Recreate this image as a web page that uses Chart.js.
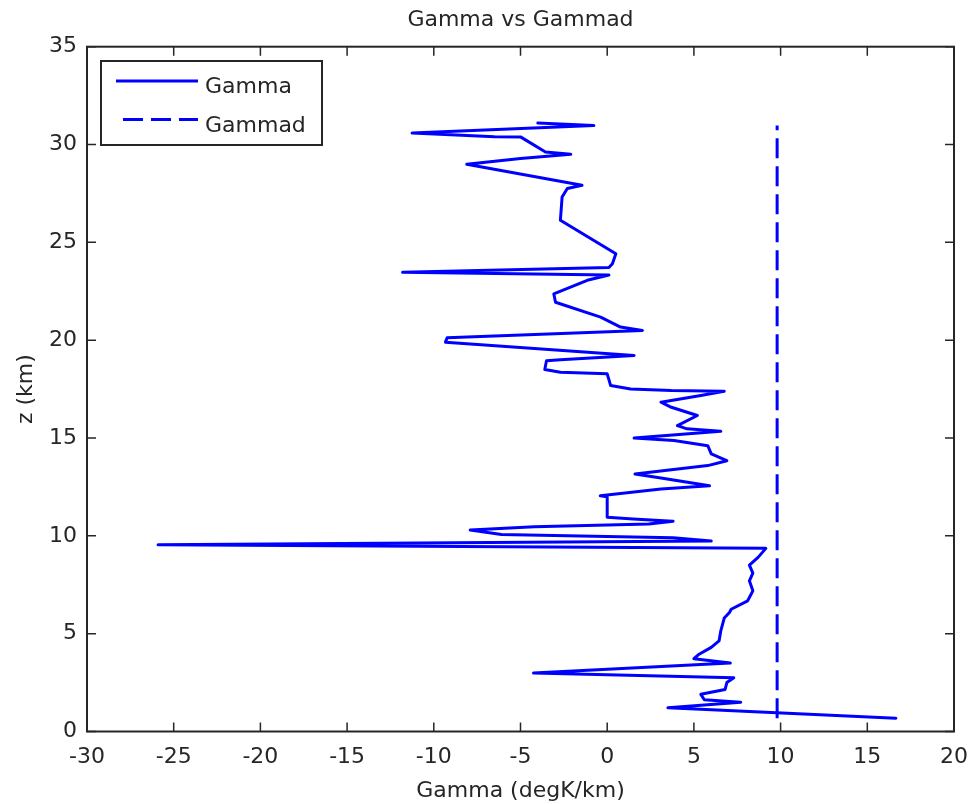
<!DOCTYPE html>
<html>
<head>
    <meta charset="utf-8">
    <title>Gamma vs Gammad</title>
    <script src="https://cdn.jsdelivr.net/npm/chart.js@4.4.0/dist/chart.umd.min.js"></script>
    <style>
        body { margin: 0; background: #fff; }
        canvas { display: block; }
    </style>
</head>
<body>
    <canvas id="myChart" width="972" height="804"></canvas>
    <script>
        // lapse rate profile (degK/km vs km)
        const gammaVals = [
            16.65, 3.5, 7.7, 5.6, 5.4, 6.8, 6.9, 7.3, -4.25, 7.1,
            5.0, 5.3, 6.0, 6.45, 6.55, 6.75, 7.05, 7.15, 8.1, 8.4,
            8.2, 8.4, 8.2, 8.7, 9.15, -25.9, 6.0, 3.8, -6.1, -7.9,
            -4.2, 2.4, 3.8, 1.5, 0.0, 0.0, -0.4, 3.1, 5.9, 3.1,
            1.6, 5.8, 6.9, 6.0, 5.8, 3.85, 1.55, 6.55, 4.6, 4.05,
            5.2, 3.7, 3.1, 5.4, 6.75, 3.7, 1.35, 0.2, 0.0, -2.7,
            -3.6, -3.5, -2.7, 1.55, -9.33, -9.23, 2.03, 0.77, -0.38, -2.98,
            -3.08, -1.15, 0.1, -11.8, 0.1, 0.3, 0.5, -2.7, -2.6, -2.3,
            -1.45, -8.1, -5.0, -2.1, -3.56, -5.0, -6.5, -11.25, -0.77, -4.0
        ];
        const zVals = [
            0.68, 1.22, 1.5, 1.62, 1.9, 2.15, 2.5, 2.75, 2.99, 3.5,
            3.72, 3.95, 4.3, 4.63, 5.14, 5.8, 6.08, 6.25, 6.68, 7.19,
            7.7, 8.1, 8.5, 8.9, 9.36, 9.54, 9.74, 9.9, 10.07, 10.3,
            10.47, 10.6, 10.75, 10.86, 10.95, 12.0, 12.05, 12.4, 12.56, 12.96,
            13.16, 13.59, 13.84, 14.19, 14.61, 14.87, 15.0, 15.34, 15.47, 15.63,
            16.15, 16.57, 16.83, 17.17, 17.39, 17.43, 17.51, 17.68, 18.28, 18.36,
            18.5, 18.95, 19.0, 19.22, 19.9, 20.12, 20.5, 20.67, 21.18, 21.94,
            22.37, 23.06, 23.33, 23.47, 23.72, 23.91, 24.42, 26.13, 27.32, 27.75,
            27.92, 28.99, 29.28, 29.5, 29.62, 30.39, 30.4, 30.59, 30.97, 31.1
        ];
        const gammadVal = 9.8;
        const gammadZ = [0.68, 30.97];

        const xTicks = [-30, -25, -20, -15, -10, -5, 0, 5, 10, 15, 20];
        const yTicks = [0, 5, 10, 15, 20, 25, 30, 35];

        const FONT = 'DejaVu Sans';
        const INK = '#262626';

        const frame = {
            id: 'frame',
            afterDatasetsDraw(chart) {
                const ctx = chart.ctx;
                const a = chart.chartArea;
                const xs = chart.scales.x, ys = chart.scales.y;
                ctx.save();
                ctx.strokeStyle = INK;
                ctx.lineWidth = 2;
                ctx.strokeRect(a.left, a.top, a.right - a.left, a.bottom - a.top);
                // inward ticks on all four sides
                ctx.lineWidth = 1.5;
                ctx.beginPath();
                xTicks.forEach(v => {
                    const px = xs.getPixelForValue(v);
                    ctx.moveTo(px, a.bottom); ctx.lineTo(px, a.bottom - 9);
                    ctx.moveTo(px, a.top); ctx.lineTo(px, a.top + 9);
                });
                yTicks.forEach(v => {
                    const py = ys.getPixelForValue(v);
                    ctx.moveTo(a.left, py); ctx.lineTo(a.left + 9, py);
                    ctx.moveTo(a.right, py); ctx.lineTo(a.right - 9, py);
                });
                ctx.stroke();

                // legend
                ctx.fillStyle = '#fff';
                ctx.fillRect(101, 61, 221, 84);
                ctx.lineWidth = 2;
                ctx.strokeRect(101, 61, 221, 84);
                ctx.strokeStyle = '#0000ff';
                ctx.lineWidth = 3;
                ctx.beginPath(); ctx.moveTo(116, 81); ctx.lineTo(198, 81); ctx.stroke();
                ctx.setLineDash([20, 8]);
                ctx.beginPath(); ctx.moveTo(123, 119.5); ctx.lineTo(198, 119.5); ctx.stroke();
                ctx.setLineDash([]);
                ctx.fillStyle = INK;
                ctx.font = '22px "' + FONT + '"';
                ctx.textAlign = 'left';
                ctx.textBaseline = 'alphabetic';
                ctx.fillText('Gamma', 205, 93);
                ctx.fillText('Gammad', 205, 131.5);

                // titles
                ctx.textAlign = 'center';
                ctx.fillText('Gamma vs Gammad', (a.left + a.right) / 2, 26);
                ctx.fillText('Gamma (degK/km)', (a.left + a.right) / 2, 797);
                ctx.translate(32, (a.top + a.bottom) / 2);
                ctx.rotate(-Math.PI / 2);
                ctx.fillText('z (km)', 0, 0);
                ctx.restore();
            }
        };

        const config = {
            type: 'scatter',
            data: {
                datasets: [
                    {
                        label: 'Gamma',
                        data: gammaVals.map((g, i) => ({ x: g, y: zVals[i] })),
                        showLine: true,
                        borderColor: '#0000ff',
                        backgroundColor: '#0000ff',
                        borderWidth: 3,
                        pointRadius: 0,
                        borderJoinStyle: 'round',
                        borderCapStyle: 'round'
                    },
                    {
                        label: 'Gammad',
                        data: gammadZ.map(z => ({ x: gammadVal, y: z })),
                        showLine: true,
                        borderColor: '#0000ff',
                        backgroundColor: '#0000ff',
                        borderWidth: 3,
                        borderDash: [20, 8],
                        pointRadius: 0
                    }
                ]
            },
            options: {
                responsive: false,
                animation: false,
                events: [],
                layout: { padding: { top: 46.7, right: 18, left: 0, bottom: 0 } },
                plugins: {
                    legend: { display: false },
                    tooltip: { enabled: false },
                    title: { display: false }
                },
                scales: {
                    x: {
                        type: 'linear',
                        min: -30,
                        max: 20,
                        afterFit(scale) {
                            scale.height = 72.5;
                            scale.paddingLeft = 0;
                            scale.paddingRight = 0;
                        },
                        afterBuildTicks(scale) { scale.ticks = xTicks.map(v => ({ value: v })); },
                        grid: { display: false, drawTicks: false },
                        border: { display: false },
                        ticks: {
                            padding: 13,
                            color: INK,
                            maxRotation: 0,
                            font: { family: FONT, size: 22 }
                        }
                    },
                    y: {
                        type: 'linear',
                        min: 0,
                        max: 35,
                        afterFit(scale) {
                            scale.width = 87;
                            scale.paddingTop = 0;
                            scale.paddingBottom = 0;
                        },
                        afterBuildTicks(scale) { scale.ticks = yTicks.map(v => ({ value: v })); },
                        grid: { display: false, drawTicks: false },
                        border: { display: false },
                        ticks: {
                            padding: 10,
                            color: INK,
                            font: { family: FONT, size: 22 }
                        }
                    }
                }
            },
            plugins: [frame]
        };

        const myChart = new Chart(document.getElementById('myChart'), config);
    </script>
</body>
</html>
